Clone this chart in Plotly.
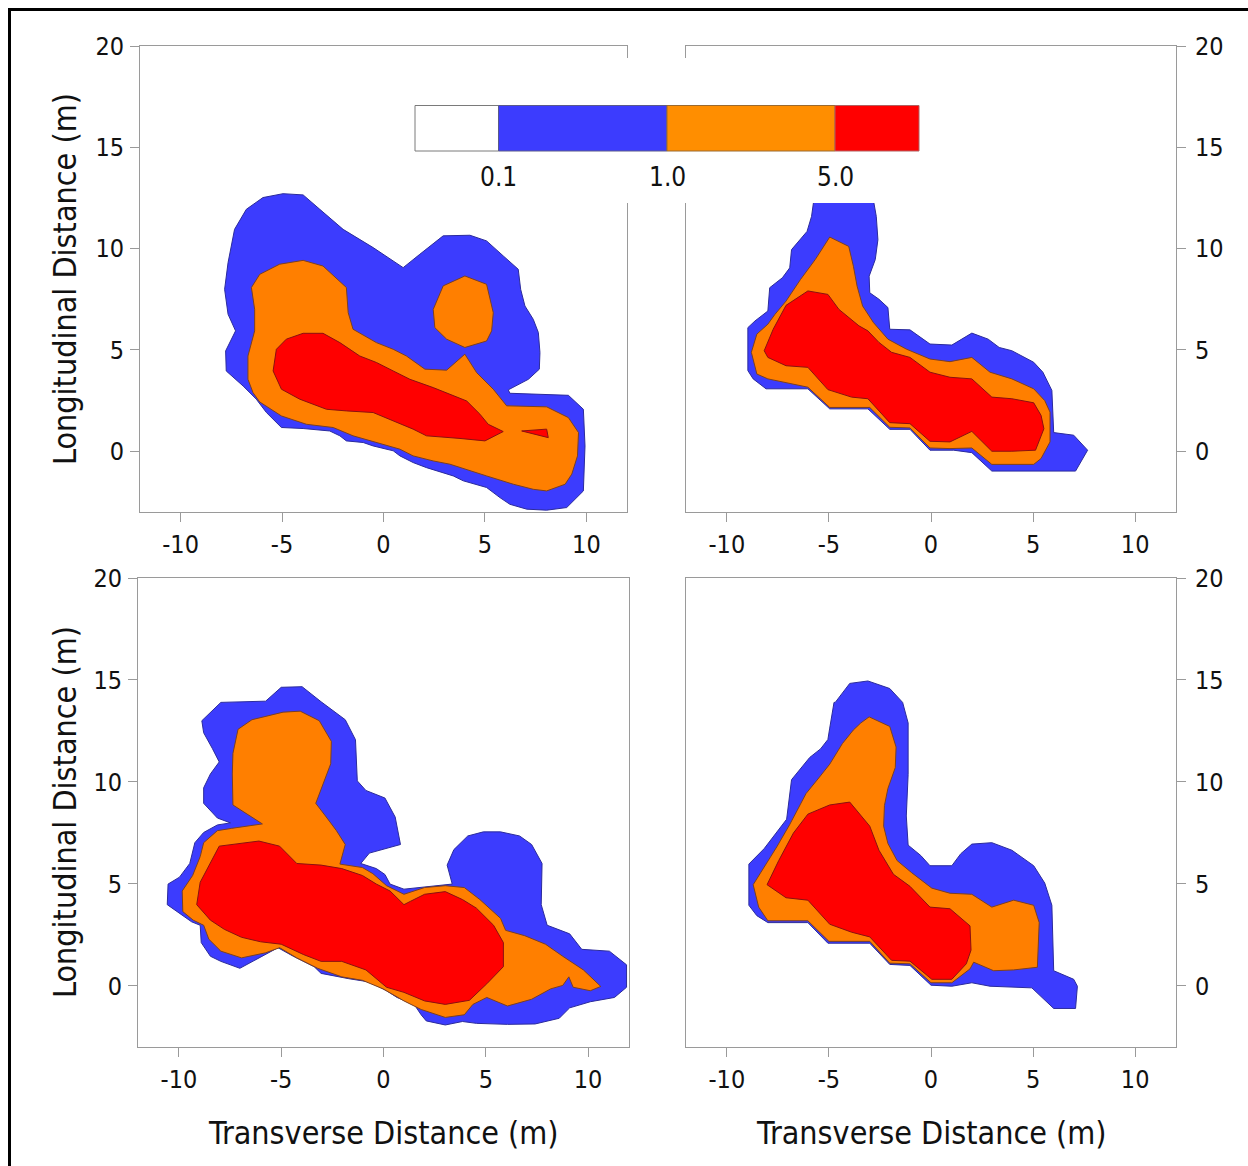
import plotly.graph_objects as go

W, H = 1248, 1166

# Concentration contour bands (x = transverse, y = longitudinal, metres)
# Upper-left field
TL_BLUE = [(-4.95, 12.71), (-3.96, 12.65), (-3.14, 11.94), (-1.99, 10.95), (-0.51, 10.05), (0.97, 9.06),
           (1.79, 9.72), (2.94, 10.63), (4.26, 10.66), (5.08, 10.38), (5.90, 9.64), (6.64, 8.98),
           (6.76, 7.99), (6.97, 7.17), (7.38, 6.51), (7.63, 5.86), (7.71, 4.87), (7.68, 4.05),
           (7.14, 3.55), (6.15, 3.03), (6.23, 2.86), (9.11, 2.76), (9.85, 2.07), (9.93, 0.26),
           (9.85, -1.96), (9.03, -2.78), (8.04, -2.91), (7.06, -2.86), (6.23, -2.62), (5.74, -2.29),
           (5.08, -1.79), (3.93, -1.46), (3.44, -1.22), (2.12, -0.81), (1.46, -0.56), (0.81, -0.23),
           (0.48, 0.02), (-0.51, 0.26), (-1.00, 0.43), (-1.83, 0.51), (-2.15, 0.76), (-2.65, 1.00),
           (-3.96, 1.12), (-5.03, 1.17), (-5.77, 1.91), (-6.27, 2.57), (-6.92, 3.22), (-7.75, 3.96),
           (-7.78, 4.95), (-7.58, 5.36), (-7.29, 5.94), (-7.66, 6.76), (-7.83, 7.99), (-7.66, 9.31),
           (-7.34, 10.95), (-6.76, 11.94), (-5.94, 12.52)]
TL_ORANGE = [(-6.51, 8.08), (-6.10, 8.73), (-5.12, 9.23), (-3.96, 9.42), (-2.98, 9.14), (-1.83, 8.08),
             (-1.74, 6.84), (-1.50, 6.02), (-0.35, 5.36), (0.48, 5.03), (1.13, 4.70), (2.04, 4.05),
             (3.11, 4.00), (4.01, 4.79), (4.59, 3.88), (5.41, 3.06), (6.07, 2.24), (8.04, 2.19),
             (9.11, 1.66), (9.61, 0.92), (9.56, -0.23), (9.28, -1.13), (8.95, -1.63), (8.04, -1.96),
             (7.38, -1.88), (6.40, -1.63), (5.08, -1.22), (4.10, -0.89), (3.27, -0.64), (2.45, -0.48),
             (1.46, -0.23), (0.81, 0.10), (-0.35, 0.43), (-1.50, 0.76), (-2.48, 1.17), (-3.80, 1.33),
             (-5.03, 1.74), (-6.10, 2.43), (-6.43, 2.89), (-6.68, 3.55), (-6.68, 4.70), (-6.35, 5.94),
             (-6.35, 7.00)]
TL_ORANGE_ISLAND = [(2.45, 7.00), (2.94, 8.16), (4.01, 8.65), (5.08, 8.24), (5.41, 6.84), (5.33, 5.94),
                    (5.08, 5.44), (4.01, 5.12), (3.11, 5.53), (2.53, 6.10)]
TL_RED = [(-5.44, 3.96), (-5.28, 5.03), (-4.79, 5.53), (-3.96, 5.82), (-2.98, 5.82), (-2.15, 5.36),
          (-1.17, 4.70), (-0.35, 4.38), (0.48, 3.96), (1.30, 3.55), (2.45, 3.14), (3.27, 2.81),
          (4.10, 2.48), (4.75, 1.83), (5.16, 1.33), (5.90, 0.97), (5.00, 0.51), (3.77, 0.63),
          (2.12, 0.76), (1.46, 1.09), (0.48, 1.50), (-0.51, 1.91), (-1.83, 1.99), (-2.81, 2.07),
          (-4.13, 2.57), (-5.03, 3.06)]
TL_RED_ISLAND = [(6.81, 1.00), (8.04, 1.09), (8.12, 0.67)]

# Upper-right field
TR_BLUE = [(-5.67, 12.9), (-2.91, 12.9), (-2.68, 11.59), (-2.60, 10.44), (-2.73, 9.46), (-3.03, 8.64),
           (-3.00, 7.82), (-2.55, 7.50), (-2.11, 7.09), (-2.02, 6.02), (-1.03, 5.99), (-0.05, 5.29),
           (1.02, 5.24), (2.00, 5.83), (2.80, 5.53), (3.34, 5.12), (3.96, 4.96), (5.03, 4.39),
           (5.48, 3.90), (5.92, 3.00), (6.01, 0.92), (6.99, 0.79), (7.67, 0.05), (7.08, -0.98),
           (2.98, -0.98), (2.00, -0.07), (1.11, 0.05), (-0.05, 0.05), (-1.03, 1.08), (-2.02, 1.08),
           (-3.09, 2.09), (-4.96, 2.09), (-6.03, 3.08), (-8.08, 3.08), (-8.71, 3.57), (-8.97, 3.98),
           (-8.97, 6.10), (-8.62, 6.43), (-7.99, 6.92), (-7.90, 8.07), (-7.28, 8.56), (-6.92, 9.05),
           (-6.83, 9.95), (-6.48, 10.36), (-6.07, 10.85), (-5.85, 11.59)]
TR_ORANGE = [(-4.96, 10.57), (-4.03, 10.11), (-3.80, 9.13), (-3.62, 8.15), (-3.35, 7.17), (-2.82, 6.35),
             (-2.11, 5.53), (-1.21, 5.04), (-0.05, 4.55), (0.93, 4.42), (2.00, 4.63), (2.89, 3.90),
             (3.96, 3.57), (5.03, 3.08), (5.57, 2.50), (5.83, 1.93), (5.83, 0.46), (5.39, -0.36),
             (5.03, -0.65), (2.98, -0.65), (2.00, 0.16), (0.93, 0.13), (-0.05, 0.16), (-1.03, 1.15),
             (-2.02, 1.18), (-3.00, 2.16), (-4.96, 2.16), (-6.03, 3.16), (-7.99, 3.57), (-8.53, 3.81),
             (-8.80, 4.88), (-8.53, 5.78), (-7.99, 6.27), (-7.64, 6.76), (-7.10, 7.41), (-6.39, 8.48),
             (-5.67, 9.46)]
TR_RED = [(-8.17, 4.96), (-7.73, 6.02), (-7.10, 7.20), (-6.03, 7.91), (-5.05, 7.74), (-4.51, 7.00),
          (-3.53, 6.19), (-3.09, 5.94), (-2.55, 5.37), (-1.93, 4.88), (-1.03, 4.63), (-0.05, 3.90),
          (0.93, 3.65), (2.00, 3.57), (2.98, 2.67), (3.96, 2.59), (5.03, 2.39), (5.39, 1.77),
          (5.53, 1.11), (5.12, 0.05), (3.96, 0.00), (2.98, 0.00), (2.00, 0.98), (0.93, 0.46),
          (-0.05, 0.49), (-1.03, 1.36), (-2.02, 1.41), (-3.09, 2.59), (-3.89, 2.67), (-5.05, 3.04),
          (-6.03, 4.14), (-7.10, 4.22), (-7.99, 4.63)]

# Lower-left field
BL_BLUE = [(-8.88, 13.00), (-7.95, 13.90), (-5.76, 13.96), (-5.00, 14.64), (-3.98, 14.67), (-3.05, 13.93),
           (-1.87, 13.05), (-1.37, 12.07), (-1.28, 10.05), (-0.86, 9.58), (0.07, 9.21), (0.57, 8.28),
           (0.83, 6.93), (-0.69, 6.51), (-1.11, 6.00), (-0.35, 5.75), (0.07, 5.46), (0.32, 4.99),
           (1.00, 4.74), (3.36, 4.99), (3.11, 5.92), (3.44, 6.68), (4.12, 7.35), (4.88, 7.55),
           (5.72, 7.55), (6.65, 7.35), (7.24, 6.93), (7.75, 6.00), (7.71, 3.98), (8.00, 2.97),
           (9.10, 2.55), (9.69, 1.79), (11.04, 1.70), (11.88, 1.03), (11.88, -0.07), (11.29, -0.57),
           (10.11, -0.78), (9.10, -1.08), (8.59, -1.59), (7.41, -1.87), (6.06, -1.89), (4.54, -1.84),
           (3.86, -1.75), (3.02, -1.92), (2.09, -1.72), (1.84, -1.42), (1.50, -0.91), (0.66, -0.57),
           (0.15, -0.24), (-0.69, 0.19), (-1.70, 0.35), (-3.05, 0.61), (-3.39, 0.94), (-4.41, 1.45),
           (-5.16, 1.87), (-5.92, 1.45), (-7.02, 0.86), (-7.95, 1.20), (-8.46, 1.45), (-8.91, 2.12),
           (-8.96, 2.97), (-9.38, 3.14), (-9.97, 3.56), (-10.57, 3.98), (-10.53, 4.99), (-9.97, 5.33),
           (-9.47, 6.00), (-9.22, 7.02), (-8.79, 7.52), (-8.12, 7.89), (-7.48, 7.99), (-8.12, 8.23),
           (-8.79, 8.95), (-8.79, 9.71), (-8.46, 10.39), (-8.03, 10.98), (-8.37, 11.65), (-8.79, 12.41)]
BL_ORANGE = [(-7.11, 12.58), (-6.43, 13.05), (-4.91, 13.42), (-4.07, 13.47), (-3.14, 13.00), (-2.55, 11.99),
             (-2.58, 10.89), (-2.97, 9.88), (-3.31, 8.95), (-2.80, 8.28), (-2.30, 7.61), (-1.87, 6.93),
             (-2.13, 5.97), (-1.03, 5.80), (-0.52, 5.50), (0.15, 4.91), (1.00, 4.49), (2.01, 4.82),
             (3.02, 4.91), (3.95, 4.82), (4.71, 4.23), (5.72, 3.31), (5.97, 2.72), (6.90, 2.46),
             (7.92, 2.04), (8.76, 1.45), (9.77, 0.78), (10.62, -0.03), (10.11, -0.24), (9.27, -0.07),
             (9.06, 0.44), (8.76, 0.02), (8.17, -0.15), (7.24, -0.66), (6.06, -0.99), (5.05, -0.57),
             (4.37, -0.91), (3.95, -1.42), (3.02, -1.55), (1.84, -1.16), (1.00, -0.74), (-0.02, -0.15),
             (-1.03, 0.27), (-2.04, 0.44), (-3.22, 0.86), (-4.24, 1.37), (-5.08, 1.87), (-5.76, 1.62),
             (-6.94, 1.37), (-7.95, 1.70), (-8.54, 2.29), (-8.79, 2.97), (-9.30, 3.22), (-9.81, 3.64),
             (-9.84, 4.65), (-9.33, 5.41), (-8.96, 6.34), (-8.79, 7.02), (-8.12, 7.61), (-7.44, 7.72),
             (-5.92, 7.94), (-7.36, 8.87), (-7.39, 10.39), (-7.36, 11.40), (-7.14, 12.33)]
BL_RED = [(-8.03, 6.85), (-6.09, 7.10), (-5.08, 6.85), (-4.24, 6.00), (-3.05, 5.92), (-2.04, 5.75),
          (-1.03, 5.41), (-0.35, 4.99), (0.32, 4.65), (1.00, 3.98), (1.33, 4.15), (2.01, 4.49),
          (3.02, 4.62), (3.86, 4.23), (4.54, 3.81), (5.38, 2.97), (5.86, 2.12), (5.86, 0.94),
          (5.05, 0.10), (4.20, -0.71), (3.02, -0.91), (2.01, -0.74), (1.00, -0.32), (0.15, -0.07),
          (-0.86, 0.78), (-2.04, 1.20), (-3.05, 1.20), (-3.90, 1.53), (-5.00, 2.04), (-6.01, 2.16),
          (-6.94, 2.38), (-7.78, 2.77), (-8.46, 3.22), (-9.13, 3.98), (-8.96, 5.08), (-8.46, 6.00)]

# Lower-right field
BR_BLUE = [(-4.69, 13.90), (-3.98, 14.83), (-3.09, 14.95), (-2.02, 14.58), (-1.39, 13.90), (-1.12, 12.89),
           (-1.12, 10.36), (-1.21, 8.33), (-1.12, 6.90), (-0.50, 6.39), (-0.05, 5.89), (1.02, 5.89),
           (1.46, 6.48), (2.00, 6.95), (2.98, 7.02), (3.96, 6.65), (5.03, 5.89), (5.57, 5.04),
           (5.92, 3.95), (5.96, 2.60), (6.01, 0.74), (6.99, 0.32), (7.17, -0.02), (7.08, -1.11),
           (6.01, -1.11), (4.94, -0.10), (2.89, -0.02), (2.00, 0.15), (1.02, -0.02), (0.00, 0.03),
           (-1.03, 1.00), (-2.02, 1.05), (-3.00, 2.09), (-5.05, 2.09), (-6.03, 3.10), (-7.99, 3.10),
           (-8.53, 3.44), (-8.92, 3.95), (-8.92, 5.97), (-8.17, 6.73), (-7.64, 7.41), (-7.07, 8.17),
           (-6.83, 10.11), (-6.30, 10.78), (-5.94, 11.20), (-5.41, 11.62), (-5.05, 12.08), (-4.96, 12.64),
           (-4.75, 13.90)]
BR_ORANGE = [(-3.44, 12.89), (-3.03, 13.19), (-2.02, 12.72), (-1.71, 11.71), (-1.75, 10.70), (-2.11, 9.68),
             (-2.28, 8.84), (-2.32, 7.83), (-2.11, 6.98), (-1.66, 6.14), (-0.95, 5.55), (0.04, 4.79),
             (0.93, 4.54), (2.00, 4.49), (2.98, 3.86), (4.05, 4.20), (5.03, 3.95), (5.30, 3.10),
             (5.21, 0.91), (4.05, 0.78), (3.07, 0.74), (2.09, 1.16), (1.91, 0.83), (1.02, 0.15),
             (0.00, 0.15), (-1.03, 1.08), (-2.02, 1.11), (-3.00, 2.18), (-5.00, 2.18), (-6.03, 3.19),
             (-7.99, 3.19), (-8.44, 3.86), (-8.71, 4.96), (-8.08, 5.97), (-7.55, 6.82), (-6.92, 7.91),
             (-6.12, 9.43), (-5.50, 10.19), (-4.96, 10.87), (-4.34, 11.88), (-3.80, 12.55)]
BR_RED = [(-6.03, 8.42), (-4.96, 8.87), (-3.98, 9.01), (-3.00, 7.83), (-2.55, 6.65), (-2.11, 5.89),
          (-1.84, 5.47), (-1.03, 4.88), (-0.05, 3.86), (0.93, 3.78), (1.91, 2.94), (1.96, 1.75),
          (1.73, 1.08), (1.02, 0.32), (0.04, 0.32), (-1.03, 1.21), (-1.93, 1.25), (-3.00, 2.40),
          (-3.89, 2.63), (-4.96, 3.02), (-6.03, 4.20), (-7.10, 4.32), (-8.03, 4.96), (-7.46, 6.14),
          (-6.74, 7.49)]

X_TICKS = [-10, -5, 0, 5, 10]
X_TICK_TEXT = ["-10", "-5", "0", "5", "10"]
Y_TICKS = [0, 5, 10, 15, 20]
Y_TICK_TEXT = ["0", "5", "10", "15", "20"]
X_RANGE = [-12, 12]
Y_RANGE = [-3, 20]
LEVEL_LABELS = ["0.1", "1.0", "5.0"]
X_TITLE = "Transverse Distance (m)"
Y_TITLE = "Longitudinal Distance (m)"

FILL = {"blue": "#3c3cfe", "orange": "#ff7f00", "red": "#ff0000"}
EDGE = {"blue": "#2b2b9c", "orange": "#7a3f22", "red": "#8a1010"}
BAR_FILL = ["#ffffff", "#3c3cfe", "#ff8e00", "#ff0000"]

FONT = "DejaVu Sans Condensed, DejaVu Sans, sans-serif"
AXIS_GREY = "#9a9a9a"


def px_x(px):
    return px / W


def px_y(py):
    return 1 - py / H


# plot-area pixel boxes: (left, right, top, bottom)
BOXES = {
    "1": (140, 627, 46, 512),
    "2": (686, 1176, 46, 512),
    "3": (138, 629, 578, 1047),
    "4": (686, 1176, 578, 1047),
}

PANELS = {
    "1": [("blue", TL_BLUE), ("orange", TL_ORANGE), ("orange", TL_ORANGE_ISLAND),
          ("red", TL_RED), ("red", TL_RED_ISLAND)],
    "2": [("blue", TR_BLUE), ("orange", TR_ORANGE), ("red", TR_RED)],
    "3": [("blue", BL_BLUE), ("orange", BL_ORANGE), ("red", BL_RED)],
    "4": [("blue", BR_BLUE), ("orange", BR_ORANGE), ("red", BR_RED)],
}

fig = go.Figure()

for key, bands in PANELS.items():
    xa = "x" if key == "1" else "x" + key
    ya = "y" if key == "1" else "y" + key
    for level, poly in bands:
        xs = [p[0] for p in poly] + [poly[0][0]]
        ys = [p[1] for p in poly] + [poly[0][1]]
        fig.add_trace(go.Scatter(
            x=xs, y=ys, xaxis=xa, yaxis=ya, mode="lines", fill="toself",
            fillcolor=FILL[level], line=dict(color=EDGE[level], width=1),
            hoverinfo="skip", showlegend=False,
        ))

tickfont = dict(family=FONT, size=25, color="#111111")
layout_axes = {}
for key, (l, r, t, b) in BOXES.items():
    sx = "xaxis" if key == "1" else "xaxis" + key
    sy = "yaxis" if key == "1" else "yaxis" + key
    anchor_x = "y" if key == "1" else "y" + key
    anchor_y = "x" if key == "1" else "x" + key
    on_right = key in ("2", "4")
    common = dict(
        showgrid=False, zeroline=False, showline=True, linecolor=AXIS_GREY, linewidth=1,
        mirror=True, ticks="outside", ticklen=9, tickcolor=AXIS_GREY, tickwidth=1,
        tickfont=tickfont, fixedrange=True, automargin=False,
    )
    layout_axes[sx] = dict(
        domain=[px_x(l), px_x(r)], anchor=anchor_x, range=X_RANGE, tickmode="array",
        tickvals=X_TICKS, ticktext=X_TICK_TEXT, ticklabelstandoff=1, **common,
    )
    layout_axes[sy] = dict(
        domain=[px_y(b), px_y(t)], anchor=anchor_y, range=Y_RANGE, tickmode="array",
        tickvals=Y_TICKS, ticktext=Y_TICK_TEXT, ticklabelstandoff=4 if on_right else 1,
        side="right" if on_right else "left", **common,
    )

shapes = []
# outer frame
shapes.append(dict(type="rect", xref="paper", yref="paper", x0=px_x(9.5), x1=1.05,
                   y0=-0.05, y1=px_y(9.5), line=dict(color="black", width=3),
                   fillcolor="rgba(0,0,0,0)", layer="above"))
# legend panel backing
shapes.append(dict(type="rect", xref="paper", yref="paper", x0=px_x(405), x1=px_x(935),
                   y0=px_y(203), y1=px_y(58), line=dict(width=0), fillcolor="white",
                   layer="above"))
# colour key
bar_edges = [415, 498.5, 667, 835, 919]
bar_lines = ["#7a7a7a", "#5a5a8a", "#9a6a30", "#b06060"]
for i, col in enumerate(BAR_FILL):
    shapes.append(dict(type="rect", xref="paper", yref="paper",
                       x0=px_x(bar_edges[i]), x1=px_x(bar_edges[i + 1]),
                       y0=px_y(151), y1=px_y(105.5), fillcolor=col,
                       line=dict(color=bar_lines[i], width=1), layer="above"))

annotations = []
for i, lab in enumerate(LEVEL_LABELS):
    annotations.append(dict(text=lab, xref="paper", yref="paper", x=px_x(bar_edges[i + 1]),
                            y=px_y(177), xanchor="center", yanchor="middle", showarrow=False,
                            font=dict(family=FONT, size=26, color="#111111")))
for cy in (279, 812):
    annotations.append(dict(text=Y_TITLE, xref="paper", yref="paper", x=px_x(65), y=px_y(cy),
                            xanchor="center", yanchor="middle", textangle=-90, showarrow=False,
                            font=dict(family=FONT, size=32, color="#111111")))
for cx in (383, 931):
    annotations.append(dict(text=X_TITLE, xref="paper", yref="paper", x=px_x(cx), y=px_y(1133),
                            xanchor="center", yanchor="middle", showarrow=False,
                            font=dict(family=FONT, size=32, color="#111111")))

fig.update_layout(
    width=W, height=H, margin=dict(l=0, r=0, t=0, b=0, autoexpand=False),
    paper_bgcolor="white", plot_bgcolor="white",
    shapes=shapes, annotations=annotations, **layout_axes,
)

fig.write_html("out.html", config={"displayModeBar": False})
